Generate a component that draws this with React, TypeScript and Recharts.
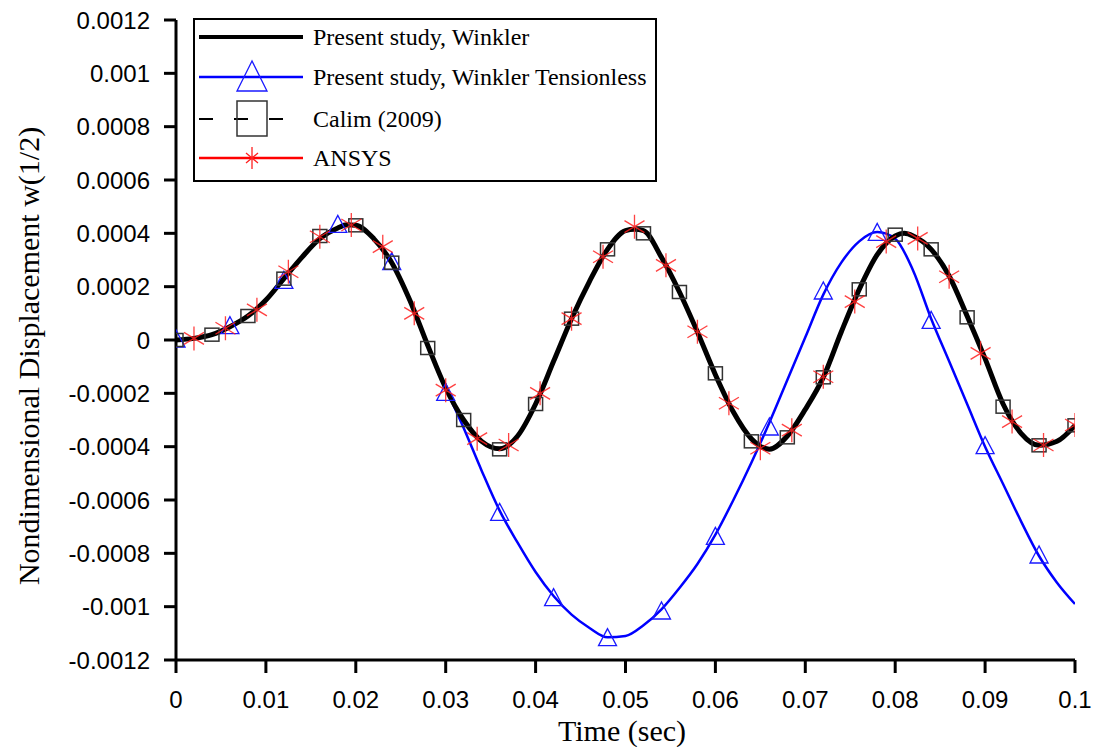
import React from 'react';
import { LineChart, Line, XAxis, YAxis, Legend } from 'recharts';

// Present study, Winkler (solid black curve)
const winklerTime = [0, 0.002, 0.004, 0.006, 0.008, 0.01, 0.012, 0.014, 0.016, 0.018, 0.019, 0.02, 0.022, 0.024, 0.026, 0.028, 0.03, 0.032, 0.034, 0.036, 0.038, 0.04, 0.042, 0.044, 0.046, 0.048, 0.05, 0.051, 0.052, 0.054, 0.056, 0.058, 0.06, 0.062, 0.064, 0.066, 0.068, 0.07, 0.072, 0.074, 0.076, 0.078, 0.08, 0.081, 0.082, 0.084, 0.086, 0.088, 0.09, 0.092, 0.094, 0.096, 0.098, 0.1];
const winklerDisp = [0, 0.000006, 0.00002, 0.00005, 0.00009, 0.00015, 0.00023, 0.00031, 0.00038, 0.00042, 0.000432, 0.00043, 0.00038, 0.00029, 0.00015, -0.00002, -0.00018, -0.0003, -0.00038, -0.000408, -0.00036, -0.00024, -0.00008, 0.00008, 0.00022, 0.00034, 0.00041, 0.000415, 0.00041, 0.00031, 0.00018, 0.00003, -0.00013, -0.00027, -0.00037, -0.00041, -0.00036, -0.00026, -0.00014, 0.00003, 0.00019, 0.00032, 0.00039, 0.0004, 0.00039, 0.00034, 0.00024, 0.00009, -0.00007, -0.00024, -0.00035, -0.000395, -0.00038, -0.00032];

// Present study, Winkler tensionless (blue curve)
const tensionlessTime = [0, 0.002, 0.004, 0.006, 0.008, 0.01, 0.012, 0.014, 0.016, 0.018, 0.019, 0.02, 0.022, 0.024, 0.026, 0.028, 0.03, 0.032, 0.034, 0.036, 0.038, 0.04, 0.042, 0.044, 0.046, 0.048, 0.05, 0.052, 0.054, 0.056, 0.058, 0.06, 0.062, 0.064, 0.066, 0.068, 0.07, 0.072, 0.074, 0.076, 0.078, 0.08, 0.082, 0.084, 0.086, 0.088, 0.09, 0.092, 0.094, 0.096, 0.098, 0.1];
const tensionlessDisp = [0, 0.000006, 0.00002, 0.00005, 0.00009, 0.00015, 0.00023, 0.00031, 0.00038, 0.00042, 0.000432, 0.00043, 0.00038, 0.00029, 0.00015, -0.00002, -0.00018, -0.00033, -0.00049, -0.00064, -0.00076, -0.00087, -0.00096, -0.00103, -0.00108, -0.001115, -0.00111, -0.00107, -0.00101, -0.00093, -0.00084, -0.00073, -0.0006, -0.00046, -0.00031, -0.00015, 0.00001, 0.00017, 0.00029, 0.00037, 0.000405, 0.00038, 0.00026, 0.00008, -0.00008, -0.00024, -0.0004, -0.00054, -0.00068, -0.00081, -0.00091, -0.00099];

// triangle markers on the tensionless curve
const tensionlessMarkTime = [0, 0.006, 0.012, 0.018, 0.024, 0.03, 0.036, 0.042, 0.048, 0.054, 0.06, 0.066, 0.072, 0.078, 0.084, 0.09, 0.096];
const tensionlessMarkDisp = [0, 0.00005, 0.00022, 0.00043, 0.00029, -0.0002, -0.00065, -0.00097, -0.00112, -0.00102, -0.00074, -0.00033, 0.00018, 0.0004, 0.00007, -0.0004, -0.00081];

// Calim (2009)
const calimTime = [0, 0.004, 0.008, 0.012, 0.016, 0.02, 0.024, 0.028, 0.032, 0.036, 0.04, 0.044, 0.048, 0.052, 0.056, 0.06, 0.064, 0.068, 0.072, 0.076, 0.08, 0.084, 0.088, 0.092, 0.096, 0.1];
const calimDisp = [0, 0.00002, 0.00009, 0.00023, 0.00039, 0.00043, 0.00029, -0.00003, -0.0003, -0.00041, -0.00024, 0.00008, 0.00034, 0.0004, 0.00018, -0.000125, -0.00038, -0.000365, -0.00014, 0.00019, 0.000395, 0.00034, 0.000085, -0.00025, -0.000395, -0.00032];

// ANSYS
const ansysTime = [0.002, 0.0055, 0.009, 0.0125, 0.016, 0.0195, 0.023, 0.0265, 0.03, 0.0335, 0.037, 0.0405, 0.044, 0.0475, 0.051, 0.0545, 0.058, 0.0615, 0.065, 0.0685, 0.072, 0.0755, 0.079, 0.0825, 0.086, 0.0895, 0.093, 0.0965, 0.1];
const ansysDisp = [0.000006, 0.000044, 0.000113, 0.000256, 0.000387, 0.000431, 0.00035, 0.0001, -0.000188, -0.00037, -0.000394, -0.0002, 0.00008, 0.000312, 0.000425, 0.00028, 0.000031, -0.000237, -0.000406, -0.000338, -0.000138, 0.000144, 0.000369, 0.000381, 0.000237, -0.00005, -0.000306, -0.000394, -0.000319];

const xTicks = [0, 0.01, 0.02, 0.03, 0.04, 0.05, 0.06, 0.07, 0.08, 0.09, 0.1];
const xTickLabels = ['0', '0.01', '0.02', '0.03', '0.04', '0.05', '0.06', '0.07', '0.08', '0.09', '0.1'];
const yTicks = [-0.0012, -0.001, -0.0008, -0.0006, -0.0004, -0.0002, 0, 0.0002, 0.0004, 0.0006, 0.0008, 0.001, 0.0012];
const yTickLabels = ['-0.0012', '-0.001', '-0.0008', '-0.0006', '-0.0004', '-0.0002', '0', '0.0002', '0.0004', '0.0006', '0.0008', '0.001', '0.0012'];

const legendNames = ['Present study, Winkler', 'Present study, Winkler Tensionless', 'Calim (2009)', 'ANSYS'];

const toRows = (t: number[], w: number[]) => t.map((v, i) => ({ t: v, w: w[i] }));

const winklerData = toRows(winklerTime, winklerDisp);
const tensionlessData = toRows(tensionlessTime, tensionlessDisp);
const triangleData = toRows(tensionlessMarkTime, tensionlessMarkDisp);
const calimData = toRows(calimTime, calimDisp);
const ansysData = toRows(ansysTime, ansysDisp);

const tickFont = { fontFamily: '"Liberation Sans", Arial, sans-serif', fontSize: 24, fill: '#000' };
const serif = '"Liberation Serif", "Times New Roman", serif';

const Triangle = (props: any) => {
  const { cx, cy, index } = props;
  if (cx == null || cy == null) return null;
  return <path key={'tri' + index} d={`M${cx},${cy - 10} L${cx - 9},${cy + 7} L${cx + 9},${cy + 7} Z`} fill="none" stroke="#1a1aff" strokeWidth={1.3} />;
};

const Square = (props: any) => {
  const { cx, cy, index } = props;
  if (cx == null || cy == null) return null;
  return <rect key={'sq' + index} x={cx - 7} y={cy - 6.5} width={14} height={13} fill="none" stroke="#333" strokeWidth={1.5} />;
};

const Star = (props: any) => {
  const { cx, cy, index } = props;
  if (cx == null || cy == null) return null;
  return (
    <path
      key={'st' + index}
      d={`M${cx},${cy - 12} L${cx},${cy + 12} M${cx - 10},${cy - 6} L${cx + 10},${cy + 6} M${cx - 10},${cy + 6} L${cx + 10},${cy - 6}`}
      stroke="#ff2020"
      strokeOpacity={0.85}
      strokeWidth={1.3}
      fill="none"
    />
  );
};

const LegendBox = () => (
  <div style={{ width: 464, height: 164, border: '2px solid #000', background: '#fff', boxSizing: 'border-box', position: 'relative' }}>
    <svg width={460} height={160} style={{ position: 'absolute', left: 0, top: 0 }}>
      <line x1={4} y1={17} x2={108} y2={17} stroke="#000" strokeWidth={4} />
      <line x1={4} y1={57} x2={108} y2={57} stroke="#0000ff" strokeWidth={2.5} />
      <path d="M57,41 L42,71 L72,71 Z" fill="none" stroke="#1a1aff" strokeWidth={1.3} />
      <line x1={4} y1={99} x2={108} y2={99} stroke="#000" strokeWidth={2} strokeDasharray="14 21" />
      <rect x={42} y={81} width={30} height={35} fill="none" stroke="#333" strokeWidth={1.5} />
      <line x1={4} y1={138} x2={108} y2={138} stroke="#ff0000" strokeWidth={2.5} />
      <path d="M57,127 L57,149 M51,133 L63,143 M51,143 L63,133" fill="none" stroke="#ff2020" strokeWidth={1.3} />
      {legendNames.map((name, i) => (
        <text key={name} x={118} y={[17, 57, 99, 138][i] + 8} fontFamily={serif} fontSize={24} fill="#000">
          {name}
        </text>
      ))}
    </svg>
  </div>
);

const YLabel = () => (
  <text x={39} y={356} transform="rotate(-90 39 356)" textAnchor="middle" fontFamily={serif} fontSize={30} fill="#000">
    Nondimensional Displacement w(1/2)
  </text>
);

const XLabel = () => (
  <text x={622} y={741} textAnchor="middle" fontFamily={serif} fontSize={30} fill="#000">
    Time (sec)
  </text>
);

export default function App() {
  return (
    <div style={{ position: 'absolute', left: 0, top: 0, background: '#fff' }}>
      <LineChart width={1093} height={747} margin={{ top: 20, right: 18, bottom: 0, left: 0 }}>
        <XAxis
          type="number"
          dataKey="t"
          domain={[0, 0.1]}
          ticks={xTicks}
          tickFormatter={(_v: number, i: number) => xTickLabels[i]}
          height={87}
          axisLine={{ stroke: '#000', strokeWidth: 3 }}
          tickLine={{ stroke: '#000', strokeWidth: 3 }}
          tickSize={13}
          tickMargin={18}
          tick={tickFont}
          allowDataOverflow
          label={<XLabel />}
        />
        <YAxis
          type="number"
          dataKey="w"
          domain={[-0.0012, 0.0012]}
          ticks={yTicks}
          tickFormatter={(_v: number, i: number) => yTickLabels[i]}
          width={176}
          axisLine={{ stroke: '#000', strokeWidth: 3 }}
          tickLine={{ stroke: '#000', strokeWidth: 3 }}
          tickSize={12}
          tickMargin={14}
          tick={tickFont}
          allowDataOverflow
          label={<YLabel />}
        />
        <Legend
          layout="vertical"
          align="center"
          verticalAlign="middle"
          content={() => <LegendBox />}
          wrapperStyle={{ top: 18, left: 193, width: 464, height: 164 }}
        />
        <Line data={tensionlessData} dataKey="w" type="monotone" stroke="#0000ff" strokeWidth={2.5} dot={false} isAnimationActive={false} />
        <Line data={triangleData} dataKey="w" stroke="none" dot={Triangle} activeDot={false} isAnimationActive={false} />
        <Line data={calimData} dataKey="w" stroke="none" dot={Square} activeDot={false} isAnimationActive={false} />
        <Line data={ansysData} dataKey="w" stroke="none" dot={Star} activeDot={false} isAnimationActive={false} />
        <Line data={winklerData} dataKey="w" type="monotone" stroke="#000" strokeWidth={5} dot={false} isAnimationActive={false} />
      </LineChart>
    </div>
  );
}
